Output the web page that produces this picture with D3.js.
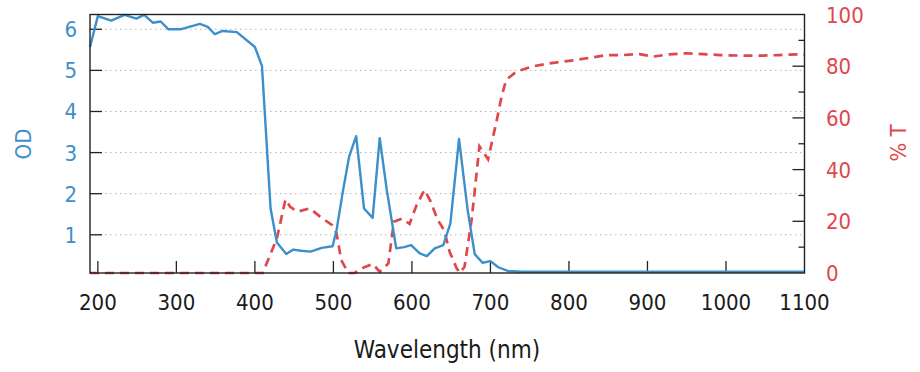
<!DOCTYPE html>
<html><head><meta charset="utf-8">
<script src="https://cdn.jsdelivr.net/npm/d3@7"></script>
<style>
html,body{margin:0;padding:0;background:#fff;}
text{font-family:"DejaVu Sans Condensed","DejaVu Sans",sans-serif;}
</style></head>
<body><svg id="c" width="920" height="372"></svg>
<script>
const odWavelengths = [190,200,217,234,249,259,270,280,290,305,330,340,349,359,377,400,409,420,428,440,449,459,471,485,499,504,512,520,529,539,550,559,568,580,590,599,610,619,629,640,649,660,671,680,690,700,710,722,740,800,900,1000,1100];
const odValues = [5.57,6.32,6.21,6.35,6.26,6.35,6.16,6.19,6.0,6.0,6.13,6.06,5.88,5.96,5.93,5.57,5.11,1.64,0.81,0.53,0.64,0.61,0.59,0.68,0.72,1.11,2.05,2.90,3.40,1.64,1.41,3.35,2.09,0.67,0.70,0.75,0.55,0.48,0.67,0.75,1.28,3.33,1.60,0.53,0.32,0.36,0.21,0.12,0.1,0.1,0.1,0.1,0.1];
const tWavelengths = [190,410,428,439,445,454,470,483,498,504,510,519,527,538,550,559,570,577,587,597,606,616,623,633,641,648,657,661,667,676,686,697,708,714,720,733,752,775,809,848,869,890,907,928,949,971,992,1021,1047,1068,1092,1100];
const tValues = [0,0,13.4,28.5,25.6,23.7,25,21.8,18.6,15.4,5,0,0,2,3.5,0.5,3.7,19.8,21,19,26.3,32.1,28.2,20.5,16.6,8.2,1.8,0,2.4,20.5,49,44,59,68,74.7,77.9,79.8,81.1,82.4,84.3,84.3,84.7,83.7,84.6,85,84.7,84.3,84.1,84.1,84.3,84.6,84.5];
const xTicks = [200,300,400,500,600,700,800,900,1000,1100];
const odTicks = [1,2,3,4,5,6];
const tTicks = [0,20,40,60,80,100];
const tMinorTicks = [10,30,50,70,90];

const blue = "#3d8fcb", red = "#e0474b";
const L = 90, R = 804.5, T = 14.5, B = 273;
const svg = d3.select("#c");
const x = d3.scaleLinear().domain([190,1100]).range([L,R]);
const yOD = d3.scaleLinear().domain([0.07,6.36]).range([B,T]);
const yT = d3.scaleLinear().domain([0,100]).range([B,T]);

// gridlines
svg.append("g").selectAll("line").data(odTicks).join("line")
  .attr("x1",L).attr("x2",R).attr("y1",d=>yOD(d)).attr("y2",d=>yOD(d))
  .attr("stroke","#b4b4b4").attr("stroke-width",1).attr("stroke-dasharray","1.5,3.5");

// ticks inward
svg.append("g").selectAll("line").data(odTicks).join("line")
  .attr("x1",L).attr("x2",L+12).attr("y1",d=>yOD(d)).attr("y2",d=>yOD(d))
  .attr("stroke","#222").attr("stroke-width",1.3);
svg.append("g").selectAll("line").data(xTicks.filter(d=>d<1100)).join("line")
  .attr("x1",d=>x(d)).attr("x2",d=>x(d)).attr("y1",B).attr("y2",B-12)
  .attr("stroke","#222").attr("stroke-width",1.3);
svg.append("g").selectAll("line").data(tTicks.filter(d=>d>0&&d<100)).join("line")
  .attr("x1",R).attr("x2",R-12).attr("y1",d=>yT(d)).attr("y2",d=>yT(d))
  .attr("stroke","#222").attr("stroke-width",1.3);
svg.append("g").selectAll("line").data(tMinorTicks).join("line")
  .attr("x1",R).attr("x2",R-6).attr("y1",d=>yT(d)).attr("y2",d=>yT(d))
  .attr("stroke","#222").attr("stroke-width",1.3);

// lines
svg.append("path").datum(tWavelengths.map((w,i)=>[w,tValues[i]]))
  .attr("fill","none").attr("stroke",red).attr("stroke-width",2.7)
  .attr("stroke-dasharray","9,6")
  .attr("d",d3.line().x(d=>x(d[0])).y(d=>yT(d[1])));
svg.append("path").datum(odWavelengths.map((w,i)=>[w,odValues[i]]))
  .attr("fill","none").attr("stroke",blue).attr("stroke-width",2.4)
  .attr("stroke-linejoin","round")
  .attr("d",d3.line().x(d=>x(d[0])).y(d=>yOD(d[1])));

// frame
svg.append("rect").attr("x",L).attr("y",T).attr("width",R-L).attr("height",B-T)
  .attr("fill","none").attr("stroke","#222").attr("stroke-width",1.4);

// labels
const fs = 22;
svg.append("g").selectAll("text").data(xTicks).join("text")
  .attr("x",d=>x(d)).attr("y",310).attr("text-anchor","middle")
  .attr("font-size",fs).attr("fill","#1a1a1a").text(d=>d);
svg.append("g").selectAll("text").data(odTicks).join("text")
  .attr("x",77).attr("y",d=>yOD(d)+8).attr("text-anchor","end")
  .attr("font-size",fs).attr("fill",blue).text(d=>d);
svg.append("g").selectAll("text").data(tTicks).join("text")
  .attr("x",826).attr("y",d=>yT(d)+8).attr("text-anchor","start")
  .attr("font-size",fs).attr("fill",red).text(d=>d);
svg.append("text").attr("x",447).attr("y",358).attr("text-anchor","middle")
  .attr("font-size",24).attr("fill","#1a1a1a").text("Wavelength (nm)");
svg.append("text").attr("transform","translate(31,144) rotate(-90)").attr("text-anchor","middle")
  .attr("font-size",fs).attr("fill",blue).text("OD");
svg.append("text").attr("transform","translate(906,143) rotate(-90)").attr("text-anchor","middle")
  .attr("font-size",fs).attr("fill",red).text("% T");
</script></body></html>
